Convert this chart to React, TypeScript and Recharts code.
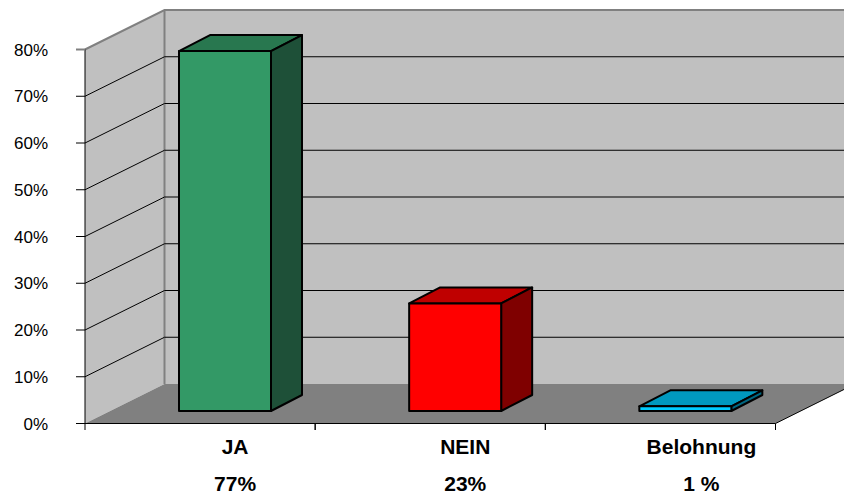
import { Bar, BarChart, CartesianGrid, Customized, XAxis, YAxis, usePlotArea } from "recharts";

const categories = ["JA", "NEIN", "Belohnung"];
const shares = [77, 23, 1];
const shareLabels = ["77%", "23%", "1 %"];
const percentTicks = [0, 10, 20, 30, 40, 50, 60, 70, 80];

const frontColors = ["#339966", "#FF0000", "#00CCFF"];
const topColors = ["#28774F", "#BF0000", "#0099BF"];
const sideColors = ["#1E5038", "#7F0000", "#006680"];

const rows = categories.map((name, i) => ({ name, share: shares[i] }));

// depth of the room and of the boxes standing in it
const ROOM_DX = 79.5;
const ROOM_DY = -39.5;
const BOX_DX = 31;
const BOX_DY = -16;
const BOX_SHIFT_X = 25;
const BOX_SHIFT_Y = -12.5;
const LABEL_SHIFT = [35, 35, 41];

const pts = (list: number[][]) => list.map((p) => p.join(",")).join(" ");

const Room = () => {
  const plot = usePlotArea();
  if (!plot) return null;
  const left = plot.x;
  const right = plot.x + plot.width;
  const top = plot.y;
  const bottom = plot.y + plot.height;
  const backLeft = left + ROOM_DX;
  const backRight = right + ROOM_DX;
  const backTop = top + ROOM_DY;
  const backBottom = bottom + ROOM_DY;
  return (
    <g>
      <polygon points={pts([[backLeft, backTop], [backRight, backTop], [backRight, backBottom], [backLeft, backBottom]])} fill="#C0C0C0" />
      <polygon points={pts([[left, top], [backLeft, backTop], [backLeft, backBottom], [left, bottom]])} fill="#C0C0C0" />
      <polygon points={pts([[left, bottom], [backLeft, backBottom], [backRight, backBottom], [right, bottom]])} fill="#808080" />
      <polyline points={pts([[left, top], [backLeft, backTop], [backRight, backTop]])} fill="none" stroke="#808080" strokeWidth={2} />
      <line x1={backLeft} y1={backTop} x2={backLeft} y2={backBottom} stroke="#808080" strokeWidth={2} />
      <line x1={right} y1={bottom} x2={backRight} y2={backBottom} stroke="#000" />
    </g>
  );
};

// one wall line: slanted along the side wall, then straight across the back
const GridLine = (props: any) => {
  const { x1, x2, y1 } = props;
  return (
    <polyline
      points={pts([[x1, y1], [x1 + ROOM_DX, y1 + ROOM_DY], [x2 + ROOM_DX, y1 + ROOM_DY]])}
      fill="none"
      stroke={y1 <= 50 || y1 >= 423 ? "none" : "#000"}
      strokeWidth={1}
    />
  );
};

const Box = (props: any) => {
  const { x, y, width, height, index } = props;
  const l = x + BOX_SHIFT_X;
  const r = l + width;
  const t = y + BOX_SHIFT_Y;
  const b = t + height;
  const edge = { stroke: "#000", strokeWidth: 2, strokeLinejoin: "round" as const };
  return (
    <g>
      <polygon points={pts([[l, t], [l + BOX_DX, t + BOX_DY], [r + BOX_DX, t + BOX_DY], [r, t]])} fill={topColors[index]} {...edge} />
      <polygon points={pts([[r, t], [r + BOX_DX, t + BOX_DY], [r + BOX_DX, b + BOX_DY], [r, b]])} fill={sideColors[index]} {...edge} />
      <rect x={l} y={t} width={width} height={height} fill={frontColors[index]} {...edge} />
    </g>
  );
};

// two-line category label, with the axis marks on the band edges
const CategoryTick = (props: any) => {
  const { x, y, payload, index } = props;
  const half = payload.offset ?? 115;
  const cx = x + LABEL_SHIFT[index];
  const base = { textAnchor: "middle" as const, fontFamily: "Liberation Sans", fontWeight: 700, fontSize: 21, fill: "#000" };
  return (
    <g>
      <line x1={x - half} y1={423.5} x2={x - half} y2={430} stroke="#000" />
      <line x1={x + half} y1={423.5} x2={x + half} y2={430} stroke="#000" />
      <text x={cx} y={454} {...base}>{payload.value}</text>
      <text x={cx} y={491} {...base}>{shareLabels[index]}</text>
    </g>
  );
};

// percent label plus its mark; the top mark takes the grey of the wall edge
const PercentTick = (props: any) => {
  const { y, payload } = props;
  return (
    <g>
      <line x1={76} y1={y} x2={85} y2={y} stroke={payload.value === 80 ? "#808080" : "#000"} strokeWidth={payload.value === 80 ? 2 : 1} />
      <text x={48} y={y} dy="0.355em" textAnchor="end" fontFamily="Liberation Sans" fontSize={17} fill="#000">
        {`${payload.value}%`}
      </text>
    </g>
  );
};

export default function App() {
  return (
    <div style={{ position: "absolute", left: 0, top: 0 }}>
      <BarChart
        width={844}
        height={496}
        data={rows}
        margin={{ top: 49.5, right: 68.5, bottom: 0, left: 0 }}
        barCategoryGap={69}
      >
        <Customized component={<Room />} />
        <CartesianGrid vertical={false} horizontal={GridLine} zIndex={50} />
        <XAxis
          dataKey="name"
          height={72.5}
          interval={0}
          axisLine={{ stroke: "#000" }}
          tickLine={false}
          tick={CategoryTick}
        />
        <YAxis
          width={85}
          domain={[0, 80]}
          ticks={percentTicks}
          axisLine={{ stroke: "#000" }}
          tickLine={false}
          tick={PercentTick}
        />
        <Bar dataKey="share" isAnimationActive={false} shape={Box} />
      </BarChart>
    </div>
  );
}
